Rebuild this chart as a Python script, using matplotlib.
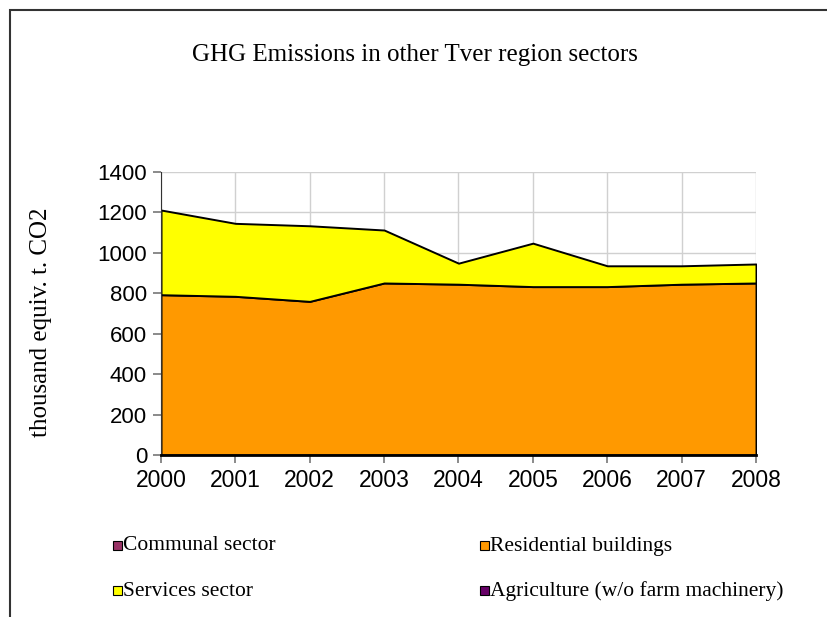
import matplotlib
matplotlib.use("Agg")
import matplotlib.pyplot as plt
from matplotlib.patches import Rectangle
import numpy as np

years = [2000, 2001, 2002, 2003, 2004, 2005, 2006, 2007, 2008]
communal = [0, 0, 0, 0, 0, 0, 0, 0, 0]
residential = [793, 785, 760, 851, 845, 833, 833, 845, 851]
services = [419, 361, 374, 262, 104, 215, 103, 91, 94]
agriculture = [0, 0, 0, 0, 0, 0, 0, 0, 0]

series_names = ["Communal sector", "Residential buildings", "Services sector",
                "Agriculture (w/o farm machinery)"]
series_colors = ["#993366", "#FF9900", "#FFFF00", "#660066"]
yticks = [0, 200, 400, 600, 800, 1000, 1200, 1400]

serif = "Liberation Serif"
sans = "Liberation Sans"

fig = plt.figure(figsize=(8.28, 6.17), dpi=100)
W, H = 828, 617

# outer frame (cropped at right/bottom)
fig.add_artist(Rectangle((10 / W, -0.1), 1.2, 1 - 10 / H + 0.1, transform=fig.transFigure,
                         fill=False, edgecolor="#333333", linewidth=1.5))

ax = fig.add_axes([161 / W, 1 - 455 / H, (756 - 161) / W, (455 - 172) / H])
x = np.arange(len(years))
data = [communal, residential, services, agriculture]
base = np.zeros(len(years))
for vals, col in zip(data, series_colors):
    top = base + np.array(vals, dtype=float)
    if np.any(np.array(vals) > 0):
        ax.fill_between(x, base, top, facecolor=col, edgecolor="black", linewidth=1.4, zorder=2)
    base = top

ax.set_xlim(0, len(years) - 1)
ax.set_ylim(0, 1400)
ax.set_yticks(yticks)
ax.set_xticks(x)
ax.set_xticklabels([str(y) for y in years], fontfamily=sans, fontsize=16.5)
ax.set_yticklabels([str(v) for v in yticks], fontfamily=sans, fontsize=16)
ax.grid(True, color="#d0d0d0", linewidth=1.0, zorder=0)
ax.set_axisbelow(True)
for s in ["top", "right"]:
    ax.spines[s].set_visible(False)
ax.spines["left"].set_color("#333333")
ax.spines["bottom"].set_color("black")
ax.spines["bottom"].set_linewidth(2)
ax.tick_params(axis="both", direction="out", length=6, color="#777777", width=1.2)
ax.tick_params(axis="x", pad=4)
ax.tick_params(axis="y", pad=4)

ax.set_ylabel("thousand equiv. t. CO2", fontfamily=serif, fontsize=18)
ax.yaxis.set_label_coords(-(161 - 52) / (756 - 161), 0.47)

fig.text(415 / W, 1 - 55 / H, "GHG Emissions in other Tver region sectors",
         ha="center", va="center", fontfamily=serif, fontsize=18)

# legend
leg_pos = [(117, 546), (484, 546), (117, 591), (484, 591)]
for (px, py), name, col in zip(leg_pos, series_names, series_colors):
    fig.add_artist(Rectangle(((px - 4) / W, 1 - (py + 4) / H), 9 / W, 9 / H,
                             transform=fig.transFigure, facecolor=col,
                             edgecolor="black", linewidth=0.8))
    fig.text((px + 6) / W, 1 - py / H, name, ha="left", va="center",
             fontfamily=serif, fontsize=15.5)

fig.savefig("out.png", dpi=100)
